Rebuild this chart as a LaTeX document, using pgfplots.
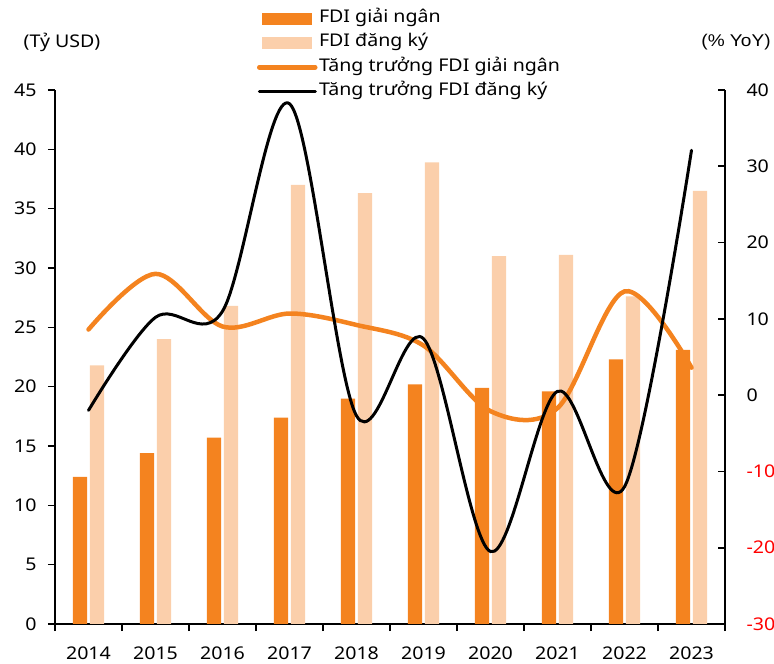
\documentclass[border=0pt]{standalone}
\usepackage{fontspec}
\setmainfont{Noto Sans}[FakeStretch=1.12]
\newfontfamily\arialf{Liberation Sans}[FakeStretch=1.12]
\usepackage{pgfplots}
\usepackage{pgfplotstable}
\pgfplotsset{compat=1.18}
\definecolor{fdiA}{HTML}{F4831F}
\definecolor{fdiB}{HTML}{FBCFAB}
\newcommand\fs{\fontsize{17.5bp}{20bp}\selectfont}

\pgfplotstableread{
x A B
0 12.4 21.8
1 14.4 24.0
2 15.7 26.8
3 17.4 37.0
4 19.0 36.3
5 20.2 38.9
6 19.9 31.0
7 19.6 31.1
8 22.3 27.6
9 23.1 36.5
}\bars

\pgfplotstableread{
x G R
0 8.6 -2.0
1 15.9 10.2
2 9.0 11.0
3 10.7 38.2
4 9.2 -2.7
5 6.5 7.4
6 -2.1 -20.5
7 -1.7 0.5
8 13.6 -12.0
9 3.6 32.1
}\growth

\begin{document}
\begin{tikzpicture}
\begin{axis}[
  at={(0,0)}, anchor=south west, scale only axis,
  width=670bp, height=534bp,
  xmin=-0.5, xmax=9.5, ymin=0, ymax=45,
  axis x line*=bottom, axis y line*=left,
  axis line style={line width=1.6bp, -},
  xtick={0,...,9},
  xticklabels={2014,2015,2016,2017,2018,2019,2020,2021,2022,2023},
  minor xtick={-0.5,0.5,...,9.5},
  major x tick style={draw=none},
  minor x tick style={line width=1.6bp, black},
  minor tick length=7bp,
  ytick={0,5,...,45},
  major tick length=7bp,
  tick align=outside,
  y tick style={line width=1.6bp, black},
  ticklabel style={font=\fs},
  /pgf/number format/assume math mode=true,
  xticklabel style={yshift=-12bp},
  yticklabel style={xshift=-8bp},
  ybar, bar width=0.21,
]
\addplot[fill=fdiA, draw=none, bar shift=-0.127] table[x=x,y=A]{\bars};
\addplot[fill=fdiB, draw=none, bar shift=0.127] table[x=x,y=B]{\bars};
\end{axis}

\begin{axis}[
  at={(0,0)}, anchor=south west, scale only axis,
  width=670bp, height=534bp,
  xmin=-0.5, xmax=9.5, ymin=-30, ymax=40,
  axis x line=none, axis y line*=right,
  axis line style={line width=1.6bp, -},
  ytick={-30,-20,...,40},
  yticklabels={{\color{red}-30},{\color{red}-20},{\color{red}-10},0,10,20,30,40},
  tick align=inside, major tick length=7bp,
  y tick style={line width=1.6bp, black},
  yticklabel style={font=\fs, xshift=18bp},
  legend style={draw=none, fill=none, at={(0.3015,1.149)}, anchor=north west,
    inner sep=0pt, outer sep=0pt, row sep=8.5bp, column sep=1.5bp, font=\fs,
    nodes={inner sep=0pt, text height=12bp, text depth=4bp}},
  legend cell align=left,
]
\addlegendimage{legend image code/.code={\fill[fdiA] (3bp,-5.3bp) rectangle (52bp,5.3bp);}}
\addlegendimage{legend image code/.code={\fill[fdiB] (3bp,-5.3bp) rectangle (52bp,5.3bp);}}
\addplot[smooth, tension=0.55, color=fdiA, line width=4.5bp, line cap=round,
  legend image code/.code={\draw[fdiA, line width=4.5bp, line cap=round] (0bp,0bp) -- (56bp,0bp);}]
  table[x=x,y=G]{\growth};
\addplot[smooth, tension=0.55, color=black, line width=3bp, line cap=round,
  legend image code/.code={\draw[black, line width=3bp, line cap=round] (0bp,0bp) -- (56bp,0bp);}]
  table[x=x,y=R]{\growth};
\legend{FDI giải ngân, FDI đăng ký, Tăng trưởng FDI giải ngân, Tăng trưởng FDI đăng ký}
\end{axis}

\node[font=\fs] at (7bp,582bp) {(Tỷ USD)};
\node[font=\arialf\fontsize{17bp}{20bp}\selectfont] at (681bp,582bp) {(\% YoY)};

\pgfresetboundingbox
\useasboundingbox (-55bp,-40bp) rectangle (719bp,624bp);
\end{tikzpicture}
\end{document}
